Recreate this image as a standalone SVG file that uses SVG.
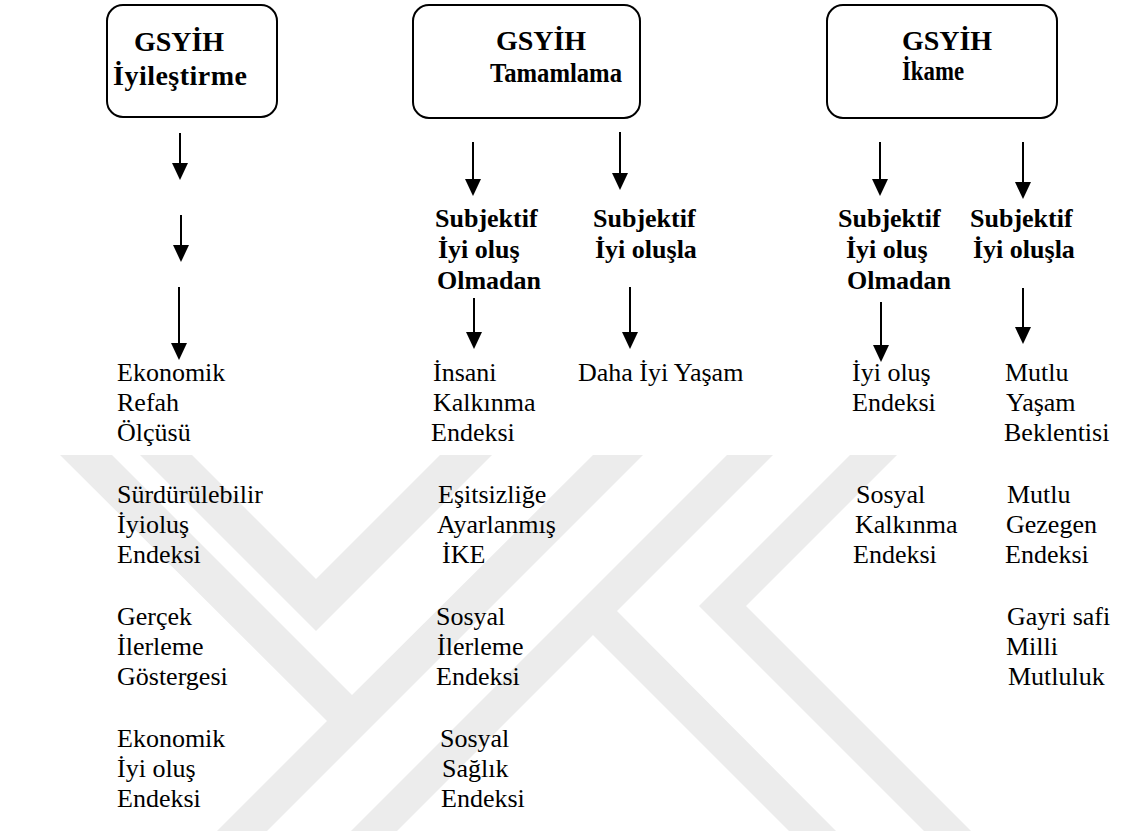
<svg xmlns="http://www.w3.org/2000/svg" width="1121" height="831" viewBox="0 0 1121 831">
<defs>
<style>
.wm{fill:#ececec}
.box{fill:#fff;stroke:#000;stroke-width:2}
.hd{font-family:"Liberation Serif","Times New Roman",serif;font-weight:bold;font-size:28px;fill:#000}
.sb{font-family:"Liberation Serif","Times New Roman",serif;font-weight:bold;font-size:26px;fill:#000}
.t{font-family:"Liberation Serif","Times New Roman",serif;font-size:26px;fill:#000}
.ar{stroke:#000;stroke-width:2;fill:none;marker-end:url(#ah)}
</style>
<marker id="ah" markerUnits="userSpaceOnUse" markerWidth="18" markerHeight="18" viewBox="0 0 18 18" refX="8" refY="9" orient="auto">
<path d="M0,1 L17,9 L0,17 z" fill="#000"/>
</marker>
</defs>
<rect width="1121" height="831" fill="#fff"/>
<g id="watermark">
<polygon class="wm" points="60,455 112,455 352,695 593,455 643,455 267,831 217,831 327,721"/>
<polygon class="wm" points="140,455 192,455 316,579 440,455 492,455 316,631"/>
<polygon class="wm" points="850,455 897,455 746,606 971,831 924,831 699,606"/>
<polygon class="wm" points="727,455 773,455 617,611 836,831 789,831 593,635 397,831 351,831"/>
</g>
<g id="node-iyilestirme">
<rect class="box" x="107" y="5" width="170" height="112" rx="16"/>
<text class="hd" x="179" y="51" text-anchor="middle">GSYİH</text>
<text class="hd" x="180" y="85" text-anchor="middle" textLength="134">İyileştirme</text>
</g>
<g id="node-tamamlama">
<rect class="box" x="413" y="5" width="227" height="113" rx="16"/>
<text class="hd" x="541" y="50" text-anchor="middle">GSYİH</text>
<text class="hd" x="490" y="82" textLength="132" lengthAdjust="spacingAndGlyphs">Tamamlama</text>
</g>
<g id="node-ikame">
<rect class="box" x="827" y="5" width="230" height="113" rx="16"/>
<text class="hd" x="947" y="50" text-anchor="middle">GSYİH</text>
<text class="hd" x="902" y="80" textLength="62" lengthAdjust="spacingAndGlyphs">İkame</text>
</g>
<g id="node-sub-olmadan-1">
<text class="sb" x="435" y="227">Subjektif</text>
<text class="sb" x="438" y="258">İyi oluş</text>
<text class="sb" x="437" y="289">Olmadan</text>
</g>
<g id="node-sub-ile-1">
<text class="sb" x="593" y="227">Subjektif</text>
<text class="sb" x="595" y="258">İyi oluşla</text>
</g>
<g id="node-sub-olmadan-2">
<text class="sb" x="838" y="227">Subjektif</text>
<text class="sb" x="846" y="258">İyi oluş</text>
<text class="sb" x="847" y="289">Olmadan</text>
</g>
<g id="node-sub-ile-2">
<text class="sb" x="970" y="227">Subjektif</text>
<text class="sb" x="973" y="258">İyi oluşla</text>
</g>
<g id="node-col1">
<text class="t" x="117" y="381">Ekonomik</text>
<text class="t" x="117" y="411">Refah</text>
<text class="t" x="117" y="441">Ölçüsü</text>
<text class="t" x="117" y="503">Sürdürülebilir</text>
<text class="t" x="117" y="533">İyioluş</text>
<text class="t" x="117" y="563">Endeksi</text>
<text class="t" x="117" y="625">Gerçek</text>
<text class="t" x="117" y="655">İlerleme</text>
<text class="t" x="117" y="685">Göstergesi</text>
<text class="t" x="117" y="747">Ekonomik</text>
<text class="t" x="117" y="777">İyi oluş</text>
<text class="t" x="117" y="807">Endeksi</text>
</g>
<g id="node-col2">
<text class="t" x="433" y="381">İnsani</text>
<text class="t" x="433" y="411">Kalkınma</text>
<text class="t" x="431" y="441">Endeksi</text>
<text class="t" x="438" y="503">Eşitsizliğe</text>
<text class="t" x="437" y="533">Ayarlanmış</text>
<text class="t" x="442" y="563">İKE</text>
<text class="t" x="436" y="625">Sosyal</text>
<text class="t" x="437" y="655">İlerleme</text>
<text class="t" x="436" y="685">Endeksi</text>
<text class="t" x="440" y="747">Sosyal</text>
<text class="t" x="442" y="777">Sağlık</text>
<text class="t" x="441" y="807">Endeksi</text>
</g>
<g id="node-col3">
<text class="t" x="578" y="381">Daha İyi Yaşam</text>
</g>
<g id="node-col4">
<text class="t" x="852" y="381">İyi oluş</text>
<text class="t" x="852" y="411">Endeksi</text>
<text class="t" x="856" y="503">Sosyal</text>
<text class="t" x="855" y="533">Kalkınma</text>
<text class="t" x="853" y="563">Endeksi</text>
</g>
<g id="node-col5">
<text class="t" x="1005" y="381">Mutlu</text>
<text class="t" x="1006" y="411">Yaşam</text>
<text class="t" x="1004" y="441">Beklentisi</text>
<text class="t" x="1007" y="503">Mutlu</text>
<text class="t" x="1006" y="533">Gezegen</text>
<text class="t" x="1005" y="563">Endeksi</text>
<text class="t" x="1007" y="625">Gayri safi</text>
<text class="t" x="1006" y="655">Milli</text>
<text class="t" x="1008" y="685">Mutluluk</text>
</g>
<g id="connectors">
<line class="ar" x1="180" y1="133" x2="180" y2="171"/>
<line class="ar" x1="181" y1="215" x2="181" y2="253"/>
<line class="ar" x1="179" y1="287" x2="179" y2="351"/>
<line class="ar" x1="473" y1="142" x2="473" y2="187"/>
<line class="ar" x1="474" y1="298" x2="474" y2="340"/>
<line class="ar" x1="620" y1="132" x2="620" y2="181"/>
<line class="ar" x1="630" y1="287" x2="630" y2="340"/>
<line class="ar" x1="880" y1="142" x2="880" y2="187"/>
<line class="ar" x1="881" y1="302" x2="881" y2="353"/>
<line class="ar" x1="1023" y1="142" x2="1023" y2="190"/>
<line class="ar" x1="1023" y1="288" x2="1023" y2="335"/>
</g>
</svg>
